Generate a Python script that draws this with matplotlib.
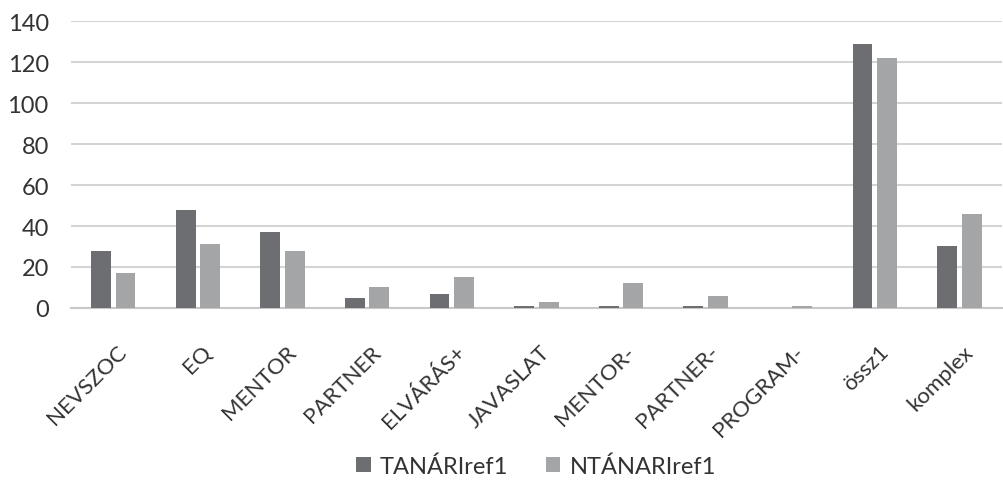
import numpy as np
import matplotlib
matplotlib.use("Agg")
import matplotlib.pyplot as plt

plt.rcParams['font.family'] = ['Lato', 'DejaVu Sans']

kategoriak = ["NEVSZOC", "EQ", "MENTOR", "PARTNER", "ELVÁRÁS+", "JAVASLAT",
              "MENTOR-", "PARTNER-", "PROGRAM-", "össz1", "komplex"]
tanari = [28, 48, 37, 5, 7, 1, 1, 1, 0, 129, 30]
ntanari = [17, 31, 28, 10, 15, 3, 12, 6, 1, 122, 46]
y_ticks = [0, 20, 40, 60, 80, 100, 120, 140]

szin_sotet = "#6d6e71"
szin_vilagos = "#a4a5a7"
szoveg = "#333333"

fig = plt.figure(figsize=(10.04, 4.85), dpi=100)
ax = fig.add_axes([0.0707, 0.3629, 0.927, 0.5917])

x = np.arange(len(kategoriak))
sz = 0.235
ax.bar(x - 0.145, tanari, sz, color=szin_sotet, label="TANÁRIref1", zorder=3)
ax.bar(x + 0.145, ntanari, sz, color=szin_vilagos, label="NTÁNARIref1", zorder=3)

ax.set_xlim(-0.5, len(kategoriak) - 0.5)
ax.set_ylim(0, 140)
ax.set_yticks(y_ticks)
ax.yaxis.grid(True, color="#d4d4d4", linewidth=1.5, zorder=0)
ax.set_axisbelow(True)
for s in ["top", "right", "left"]:
    ax.spines[s].set_visible(False)
ax.spines["bottom"].set_color("#c8c8c8")
ax.spines["bottom"].set_linewidth(1.5)
ax.tick_params(axis="both", length=0, colors=szoveg)
ax.tick_params(axis="y", pad=16, labelsize=17)
ax.tick_params(axis="x", pad=24, labelsize=16)

ax.set_xticks(x + 0.04)
ax.set_xticklabels(kategoriak, rotation=45, ha="right", rotation_mode="anchor")

ax.legend(loc="center", bbox_to_anchor=(0.5, -0.55), ncol=2, frameon=False,
          fontsize=17, handlelength=0.6, handleheight=0.6, handletextpad=0.4,
          columnspacing=1.6, labelcolor=szoveg)

fig.savefig("out.png", dpi=100)
